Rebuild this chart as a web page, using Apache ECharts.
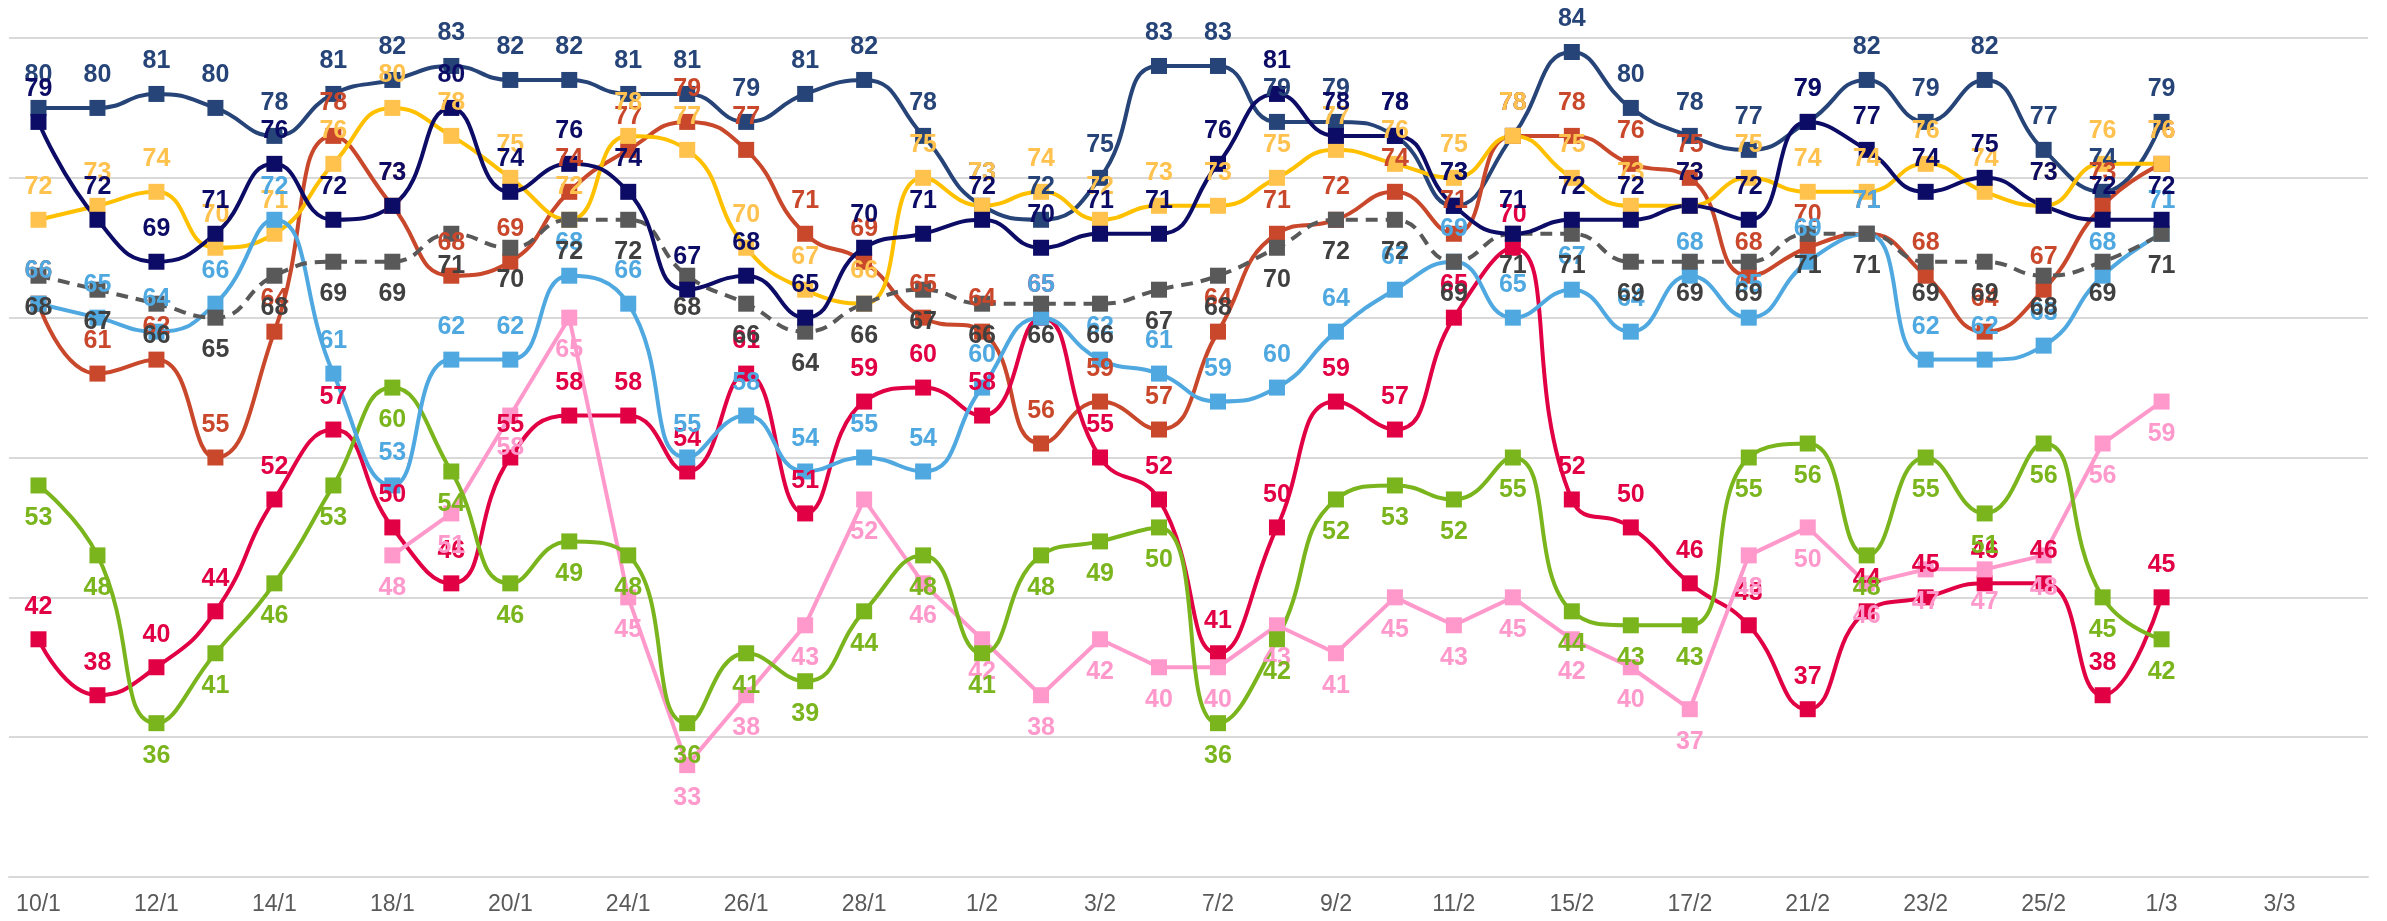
<!DOCTYPE html>
<html>
<head>
<meta charset="utf-8">
<script src="https://cdn.jsdelivr.net/npm/echarts@6/dist/echarts.min.js"></script>
<style>
  html, body { margin: 0; padding: 0; background: #fff; }
  #main { width: 2387px; height: 921px; }
</style>
</head>
<body>
<div id="main"></div>
<script>
// fechas del eje (solo se muestra una de cada dos)
var fechas = ['10/1','11/1','12/1','13/1','14/1','17/1','18/1','19/1','20/1','21/1',
  '24/1','25/1','26/1','27/1','28/1','31/1','1/2','2/2','3/2','4/2',
  '7/2','8/2','9/2','10/2','11/2','14/2','15/2','16/2','17/2','18/2',
  '21/2','22/2','23/2','24/2','25/2','28/2','1/3','2/3','3/3','4/3'];

var azulPizarra = [80,80,81,80,78,81,82,83,82,82,81,81,79,81,82,78,73,72,75,83,83,79,79,78,73,78,84,80,78,77,79,82,79,82,77,74,79];
var azulMarino = [79,72,69,71,76,72,73,80,74,76,74,67,68,65,70,71,72,70,71,71,76,81,78,78,73,71,72,72,73,72,79,77,74,75,73,72,72];
var amarillo = [72,73,74,70,71,76,80,78,75,72,78,77,70,67,66,75,73,74,72,73,73,75,77,76,75,78,75,73,73,75,74,74,76,74,73,76,76];
var naranja = [66,61,62,55,64,78,73,68,69,74,77,79,77,71,69,65,64,56,59,57,64,71,72,74,71,78,78,76,75,68,70,71,68,64,67,73,76];
var celeste = [66,65,64,66,72,61,53,62,62,68,66,55,58,54,55,54,60,65,62,61,59,60,64,67,69,65,67,64,68,65,69,71,62,62,63,68,71];
var gris = [68,67,66,65,68,69,69,71,70,72,72,68,66,64,66,67,66,66,66,67,68,70,72,72,69,71,71,69,69,69,71,71,69,69,68,69,71];
var carmesi = [42,38,40,44,52,57,50,46,55,58,58,54,61,51,59,60,58,65,55,52,41,50,59,57,65,70,52,50,46,43,37,44,45,46,46,38,45];
var verde = [53,48,36,41,46,53,60,54,46,49,48,36,41,39,44,48,41,48,49,50,36,42,52,53,52,55,44,43,43,55,56,48,55,51,56,45,42];
var rosa = [null,null,null,null,null,null,48,51,58,65,45,33,38,43,52,46,42,38,42,40,40,43,41,45,43,45,42,40,37,48,50,46,47,47,48,56,59];

var fuente = "'Liberation Sans', Arial, sans-serif";

function linea(nombre, datos, color, posicion, opciones) {
  opciones = opciones || {};
  return {
    name: nombre,
    type: 'line',
    data: datos,
    smooth: opciones.recta ? false : 0.5,
    symbol: 'rect',
    symbolSize: 16,
    connectNulls: false,
    lineStyle: {
      color: opciones.colorLinea || color,
      width: 4,
      type: opciones.tipo || 'solid'
    },
    itemStyle: { color: color },
    label: {
      show: true,
      position: posicion,
      distance: 12,
      color: opciones.colorTexto || color,
      fontFamily: fuente,
      fontWeight: 'bold',
      fontSize: 25
    }
  };
}

var chartDom = document.getElementById('main');
var myChart = echarts.init(chartDom);
var option;

option = {
  animation: false,
  backgroundColor: '#ffffff',
  grid: { left: 9, right: 19, top: 38, bottom: 44 },
  xAxis: {
    type: 'category',
    data: fechas,
    boundaryGap: true,
    axisLine: { lineStyle: { color: '#D9D9D9', width: 2 } },
    axisTick: { show: false },
    axisLabel: {
      interval: 1,
      color: '#595959',
      fontFamily: fuente,
      fontSize: 23,
      margin: 16
    }
  },
  yAxis: {
    type: 'value',
    min: 25,
    max: 85,
    interval: 10,
    axisLine: { show: false },
    axisTick: { show: false },
    axisLabel: { show: false },
    splitLine: { lineStyle: { color: '#D9D9D9', width: 2 } }
  },
  series: [
    linea('Serie A', azulPizarra, '#264478', 'top'),
    linea('Serie D', naranja, '#C9472B', 'top'),
    linea('Serie C', amarillo, '#FFC34D', 'top', { colorLinea: '#FFC000', colorTexto: '#FFC24F' }),
    linea('Serie G', carmesi, '#E20045', 'top'),
    linea('Serie I', rosa, '#FF99CC', 'bottom', { recta: true }),
    linea('Serie H', verde, '#7AB51D', 'bottom'),
    linea('Serie E', celeste, '#4FA8E0', 'top'),
    linea('Serie F', gris, '#595959', 'bottom', { tipo: [12, 8], colorTexto: '#404040' }),
    linea('Serie B', azulMarino, '#0C0C66', 'top')
  ]
};

option && myChart.setOption(option);
</script>
</body>
</html>
